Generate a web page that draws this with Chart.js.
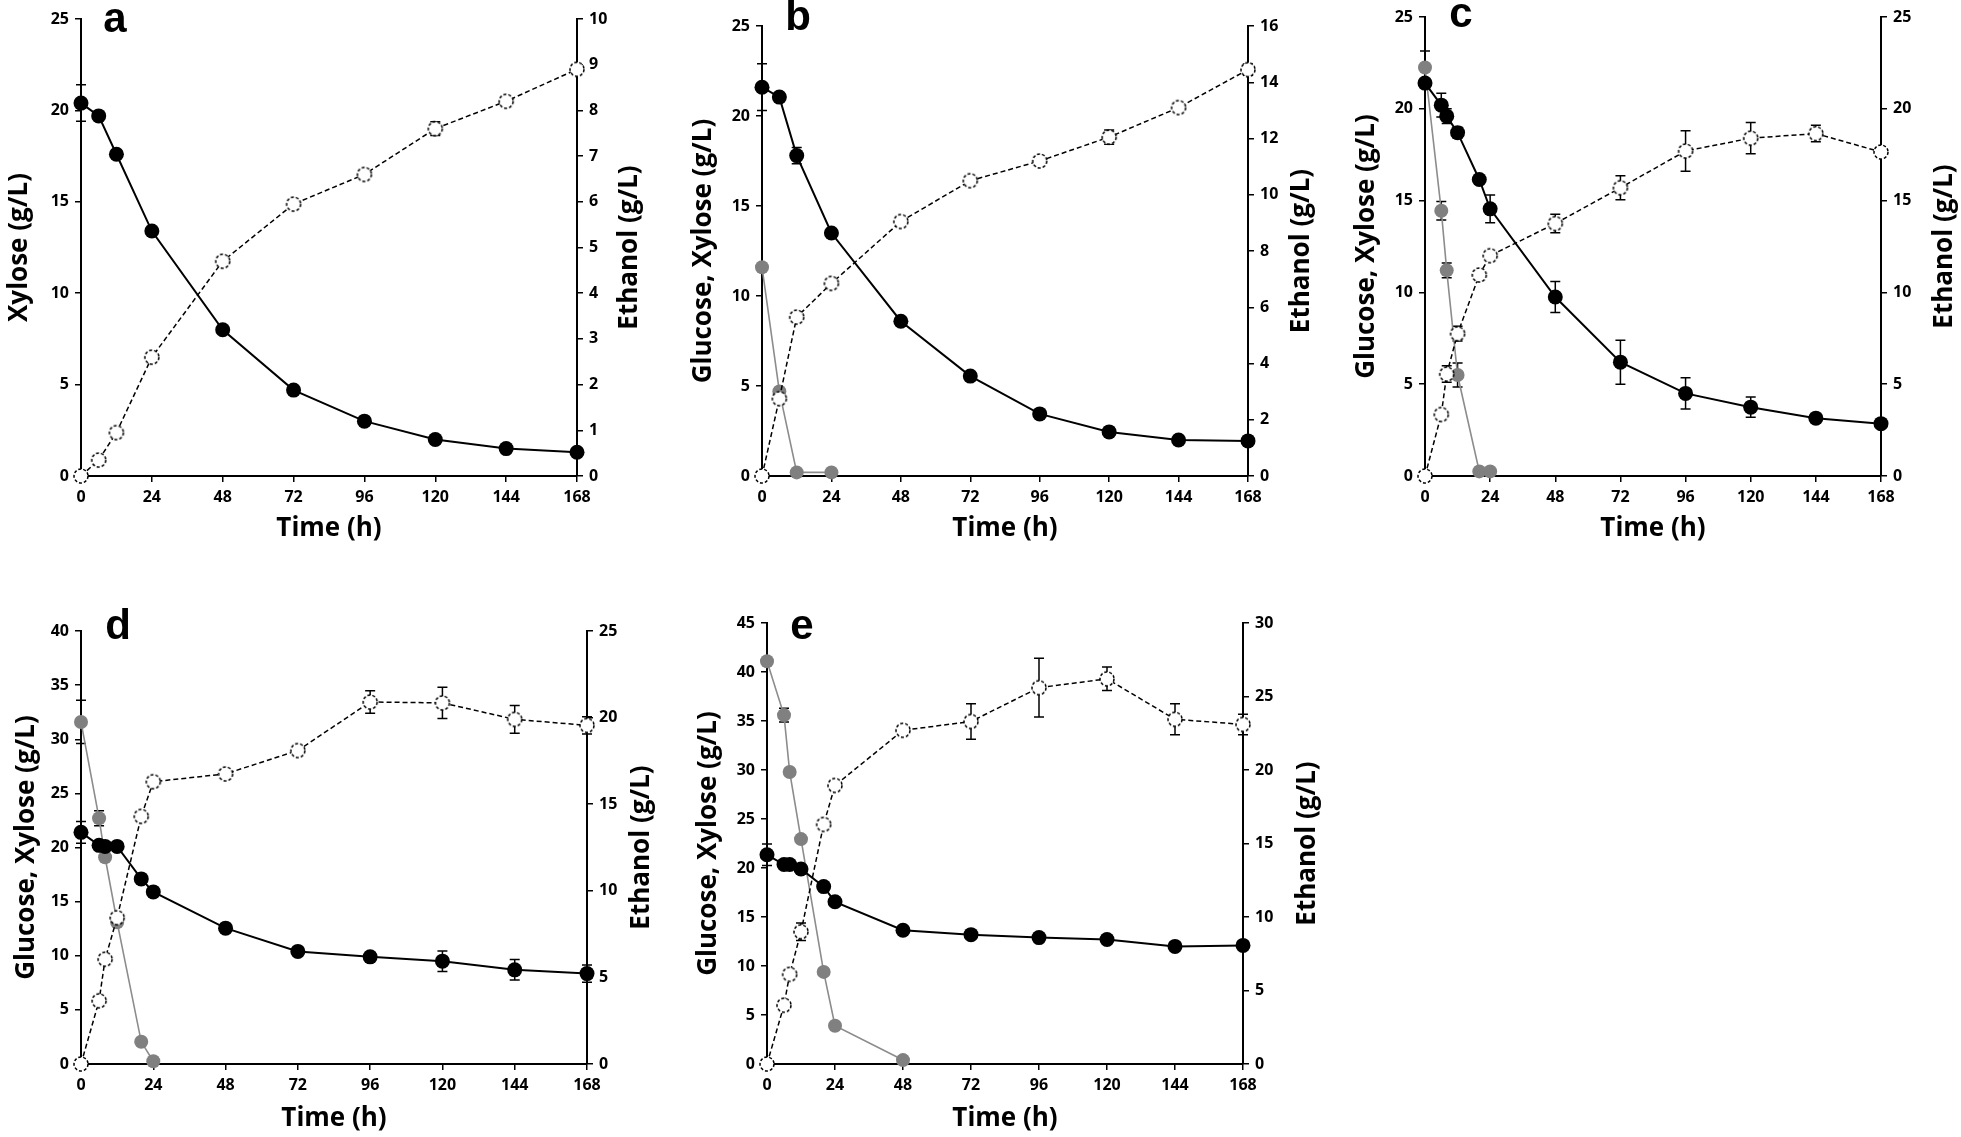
<!DOCTYPE html>
<html>
<head>
<meta charset="utf-8">
<script src="https://cdn.jsdelivr.net/npm/chart.js@4.4.1/dist/chart.umd.min.js"></script>
<style>
  html, body { margin: 0; padding: 0; background: #fff; }
  body { width: 1961px; height: 1137px; position: relative; overflow: hidden; }
  canvas { position: absolute; }
</style>
</head>
<body>
<canvas id="pa"></canvas>
<canvas id="pb"></canvas>
<canvas id="pc"></canvas>
<canvas id="pd"></canvas>
<canvas id="pe"></canvas>
<script>
// --- data (time in h, concentrations in g/L; err = +/- bar, 0 = none) ---
const tShort = [0, 6, 12, 24, 48, 72, 96, 120, 144, 168];
const tLong = [0, 6, 8, 12, 20, 24, 48, 72, 96, 120, 144, 168];

// a
const xylA = [20.4, 19.7, 17.6, 13.4, 8.0, 4.7, 3.0, 2.0, 1.5, 1.3];
const xylErrA = [1.0, 0, 0, 0, 0, 0, 0, 0, 0, 0];
const ethA = [0, 0.35, 0.95, 2.6, 4.7, 5.95, 6.6, 7.6, 8.2, 8.9];
const ethErrA = [0, 0, 0, 0, 0, 0, 0, 0.15, 0, 0];

// b
const xylB = [21.6, 21.05, 17.8, 13.5, 8.6, 5.55, 3.45, 2.45, 2.0, 1.95];
const xylErrB = [1.3, 0, 0.45, 0, 0, 0, 0, 0, 0, 0];
const tGluB = [0, 6, 12, 24];
const gluB = [11.6, 4.7, 0.2, 0.2];
const gluErrB = [0, 0, 0, 0];
const ethB = [0, 2.75, 5.65, 6.85, 9.05, 10.5, 11.2, 12.05, 13.1, 14.45];
const ethErrB = [0, 0, 0, 0, 0, 0, 0, 0.25, 0, 0.2];

// c
const xylC = [21.4, 20.2, 19.6, 18.7, 16.15, 14.55, 9.75, 6.2, 4.5, 3.75, 3.15, 2.85];
const xylErrC = [0, 0.65, 0.4, 0.3, 0, 0.75, 0.85, 1.2, 0.85, 0.55, 0.15, 0.15];
const tGluC = [0, 6, 8, 12, 20, 24];
const gluC = [22.25, 14.45, 11.2, 5.5, 0.25, 0.25];
const gluErrC = [0.9, 0.5, 0.4, 0.65, 0, 0];
const ethC = [0, 3.35, 5.55, 7.75, 10.95, 12.0, 13.75, 15.7, 17.7, 18.4, 18.65, 17.65];
const ethErrC = [0, 0, 0.45, 0.4, 0, 0, 0.5, 0.65, 1.1, 0.85, 0.45, 0];

// d
const xylD = [21.4, 20.2, 20.1, 20.1, 17.1, 15.9, 12.55, 10.4, 9.9, 9.5, 8.7, 8.35];
const xylErrD = [1.0, 0, 0, 0, 0, 0, 0, 0, 0, 0.95, 0.95, 0.8];
const tGluD = [0, 6, 8, 12, 20, 24];
const gluD = [31.6, 22.7, 19.1, 13.1, 2.05, 0.25];
const gluErrD = [2.0, 0.7, 0, 0, 0, 0];
const ethD = [0, 3.65, 6.05, 8.45, 14.3, 16.3, 16.75, 18.1, 20.9, 20.85, 19.9, 19.55];
const ethErrD = [0, 0, 0, 0, 0, 0, 0, 0, 0.65, 0.9, 0.8, 0.5];

// e
const xylE = [21.35, 20.35, 20.35, 19.9, 18.1, 16.55, 13.65, 13.2, 12.9, 12.7, 12.0, 12.1];
const xylErrE = [1.1, 0, 0, 0, 0, 0, 0, 0, 0, 0, 0, 0];
const tGluE = [0, 6, 8, 12, 20, 24, 48];
const gluE = [41.1, 35.6, 29.8, 22.95, 9.4, 3.9, 0.4];
const gluErrE = [0, 0.7, 0, 0, 0, 0, 0];
const ethE = [0, 4.0, 6.1, 9.0, 16.3, 18.95, 22.7, 23.3, 25.6, 26.2, 23.45, 23.1];
const ethErrE = [0, 0, 0, 0.6, 0, 0, 0, 1.2, 2.0, 0.8, 1.05, 0.7];

const timeTicks = [0, 24, 48, 72, 96, 120, 144, 168];

// --- layout per panel (page pixels) ---
const FONT = '"Open Sans", "Liberation Sans", sans-serif';
const tickFont = { family: FONT, weight: 'bold', size: 16 };
const titleFont = { family: FONT, weight: 'bold', size: 26, lineHeight: 1.2 };

const panels = [
  { id: 'pa', letter: 'a', top: 0, plot: { l: 81, r: 577, t: 19, b: 476 }, yTitleX: 20, y2Off: 53, timeY: 528, letterAt: [115, 32],
    yMax: 25, yStep: 5, y2Max: 10, y2Step: 1, yTitle: 'Xylose (g/L)',
    t: tShort, xyl: xylA, xylErr: xylErrA, eth: ethA, ethErr: ethErrA },
  { id: 'pb', letter: 'b', top: 0, plot: { l: 762, r: 1248, t: 26, b: 476 }, yTitleX: 704, y2Off: 54, timeY: 528, letterAt: [798, 30],
    yMax: 25, yStep: 5, y2Max: 16, y2Step: 2, yTitle: 'Glucose, Xylose (g/L)',
    t: tShort, xyl: xylB, xylErr: xylErrB, eth: ethB, ethErr: ethErrB, tGlu: tGluB, glu: gluB, gluErr: gluErrB },
  { id: 'pc', letter: 'c', top: 0, plot: { l: 1425, r: 1881, t: 17, b: 476 }, yTitleX: 1367, y2Off: 64, timeY: 528, letterAt: [1461, 27],
    yMax: 25, yStep: 5, y2Max: 25, y2Step: 5, yTitle: 'Glucose, Xylose (g/L)',
    t: tLong, xyl: xylC, xylErr: xylErrC, eth: ethC, ethErr: ethErrC, tGlu: tGluC, glu: gluC, gluErr: gluErrC },
  { id: 'pd', letter: 'd', top: 590, plot: { l: 81, r: 587, t: 631, b: 1064 }, yTitleX: 27, y2Off: 55, timeY: 1118, letterAt: [118, 639],
    yMax: 40, yStep: 5, y2Max: 25, y2Step: 5, yTitle: 'Glucose, Xylose (g/L)',
    t: tLong, xyl: xylD, xylErr: xylErrD, eth: ethD, ethErr: ethErrD, tGlu: tGluD, glu: gluD, gluErr: gluErrD },
  { id: 'pe', letter: 'e', top: 590, plot: { l: 767, r: 1243, t: 623, b: 1064 }, yTitleX: 709, y2Off: 65, timeY: 1118, letterAt: [802, 639],
    yMax: 45, yStep: 5, y2Max: 30, y2Step: 5, yTitle: 'Glucose, Xylose (g/L)',
    t: tLong, xyl: xylE, xylErr: xylErrE, eth: ethE, ethErr: ethErrE, tGlu: tGluE, glu: gluE, gluErr: gluErrE },
];

// open marker with a dashed outline (ethanol)
function dashedRing(r) {
  const c = document.createElement('canvas');
  const s = Math.ceil(2 * r + 4);
  c.width = c.height = s;
  const g = c.getContext('2d');
  g.beginPath();
  g.arc(s / 2, s / 2, r, 0, Math.PI * 2);
  g.fillStyle = '#fff';
  g.fill();
  g.setLineDash([3, 2]);
  g.lineWidth = 1.5;
  g.strokeStyle = '#000';
  g.stroke();
  return c;
}
const ring = dashedRing(7);

const pts = (xs, ys) => xs.map((x, i) => ({ x, y: ys[i] }));

// vertical error bars with caps, under the markers
const errorBars = {
  id: 'errorBars',
  beforeDatasetsDraw(chart) {
    const { ctx } = chart;
    const xs = chart.scales.x;
    ctx.save();
    ctx.strokeStyle = '#000';
    ctx.lineWidth = 1.5;
    chart.data.datasets.forEach((ds) => {
      if (!ds.errors) return;
      const ys = chart.scales[ds.yAxisID];
      ds.data.forEach((p, j) => {
        const e = ds.errors[j];
        if (!e) return;
        const x = xs.getPixelForValue(p.x);
        const y1 = ys.getPixelForValue(p.y + e);
        const y2 = ys.getPixelForValue(Math.max(0, p.y - e));
        ctx.beginPath();
        ctx.moveTo(x, y1); ctx.lineTo(x, y2);
        ctx.moveTo(x - 5, y1); ctx.lineTo(x + 5, y1);
        ctx.moveTo(x - 5, y2); ctx.lineTo(x + 5, y2);
        ctx.stroke();
      });
    });
    ctx.restore();
  },
};

// panel letter + right axis title (reads bottom-to-top like the left one)
const deco = {
  id: 'deco',
  afterDraw(chart, args, o) {
    const { ctx, chartArea: a } = chart;
    ctx.save();
    ctx.fillStyle = '#000';
    ctx.font = 'bold 42px "Liberation Sans", Arial, sans-serif';
    ctx.textAlign = 'center';
    ctx.textBaseline = 'alphabetic';
    ctx.fillText(o.letter, a.left + o.lx, a.top + o.ly);
    ctx.font = `bold 26px ${FONT}`;
    ctx.translate(a.right + o.rOff, (a.top + a.bottom) / 2);
    ctx.rotate(-Math.PI / 2);
    ctx.textBaseline = 'middle';
    ctx.fillText(o.rTitle, 0, 0);
    ctx.restore();
  },
};

const axisGrid = { drawOnChartArea: false, color: '#000', lineWidth: 1.5, tickLength: 6 };
const axisBorder = { color: '#000', width: 2 };

panels.forEach((p) => {
  const box = {
    l: p.yTitleX - 20,
    t: p.top,
    r: Math.min(1961, p.plot.r + p.y2Off + 25),
    b: p.timeY + 18,
  };
  const cv = document.getElementById(p.id);
  cv.width = box.r - box.l;
  cv.height = box.b - box.t;
  cv.style.left = box.l + 'px';
  cv.style.top = box.t + 'px';

  const datasets = [];
  if (p.tGlu) {
    datasets.push({
      label: 'Glucose', data: pts(p.tGlu, p.glu), errors: p.gluErr, yAxisID: 'y', order: 3,
      borderColor: '#8c8c8c', borderWidth: 1.6, pointRadius: 7, pointBorderWidth: 0,
      pointBackgroundColor: '#808080', pointBorderColor: '#808080', clip: false,
    });
  }
  datasets.push({
    label: 'Xylose', data: pts(p.t, p.xyl), errors: p.xylErr, yAxisID: 'y', order: 2,
    borderColor: '#000', borderWidth: 2, pointRadius: 7.5, pointBorderWidth: 0,
    pointBackgroundColor: '#000', pointBorderColor: '#000', clip: false,
  });
  datasets.push({
    label: 'Ethanol', data: pts(p.t, p.eth), errors: p.ethErr, yAxisID: 'y2', order: 1,
    borderColor: '#000', borderWidth: 1.5, borderDash: [5, 3], pointStyle: ring, pointRadius: 7, clip: false,
  });

  new Chart(cv.getContext('2d'), {
    type: 'line',
    data: { datasets },
    options: {
      responsive: false,
      animation: false,
      events: [],
      layout: { padding: { top: p.plot.t - box.t, left: 0, right: 0, bottom: 0 }, autoPadding: false },
      elements: { line: { tension: 0 } },
      scales: {
        x: {
          type: 'linear', min: 0, max: 168,
          afterFit: (s) => { s.height = box.b - p.plot.b; },
          afterBuildTicks: (s) => { s.ticks = timeTicks.map((v) => ({ value: v })); },
          ticks: { color: '#000', font: tickFont, padding: 6, maxRotation: 0, autoSkip: false },
          grid: axisGrid, border: axisBorder,
          title: { display: true, text: 'Time (h)', color: '#000', font: titleFont, padding: { top: 0, bottom: 2 } },
        },
        y: {
          position: 'left', min: 0, max: p.yMax,
          afterFit: (s) => { s.width = p.plot.l - box.l; },
          ticks: { stepSize: p.yStep, color: '#000', font: tickFont, padding: 6 },
          grid: axisGrid, border: axisBorder,
          title: { display: true, text: p.yTitle, color: '#000', font: titleFont, padding: { top: 4, bottom: 0 } },
        },
        y2: {
          position: 'right', min: 0, max: p.y2Max,
          afterFit: (s) => { s.width = box.r - p.plot.r; },
          ticks: { stepSize: p.y2Step, color: '#000', font: tickFont, padding: 6 },
          grid: axisGrid, border: axisBorder,
        },
      },
      plugins: {
        legend: { display: false },
        tooltip: { enabled: false },
        deco: {
          letter: p.letter,
          lx: p.letterAt[0] - p.plot.l,
          ly: p.letterAt[1] - p.plot.t,
          rTitle: 'Ethanol (g/L)',
          rOff: p.y2Off,
        },
      },
    },
    plugins: [errorBars, deco],
  });
});
</script>
</body>
</html>
